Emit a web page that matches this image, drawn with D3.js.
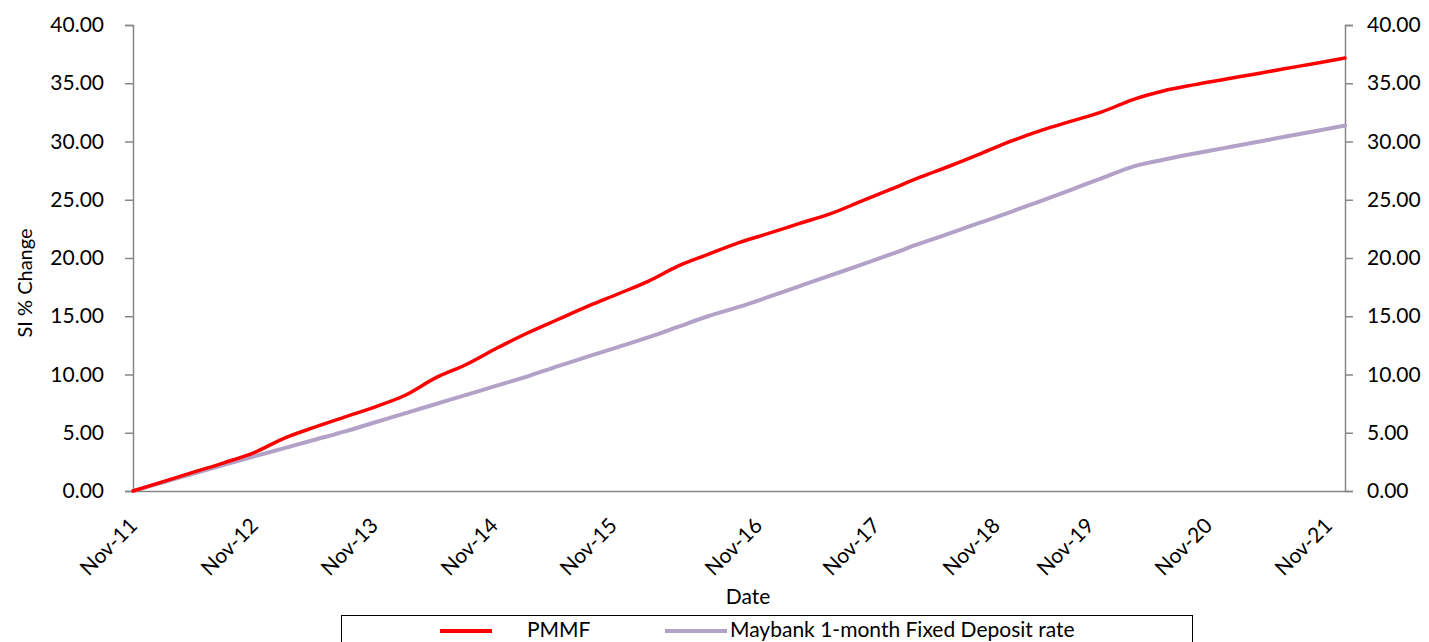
<!DOCTYPE html>
<html>
<head>
<meta charset="utf-8">
<script src="https://cdn.jsdelivr.net/npm/d3@7"></script>
<style>
  body { margin: 0; background: #fff; }
  text { font-family: Lato, "Open Sans", sans-serif; fill: #000; }
</style>
</head>
<body>
<div id="chart"></div>
<script>

// frame constants
const FRAME_WIDTH = 1429;
const FRAME_HEIGHT = 642;
const MARGINS = {left: 133, right: 84, top: 25, bottom: 151};

const VIS_WIDTH = FRAME_WIDTH - MARGINS.left - MARGINS.right;
const VIS_HEIGHT = FRAME_HEIGHT - MARGINS.top - MARGINS.bottom;

// data: cumulative % change, sampled quarterly from Nov-11 to Nov-21
const PMMF = [0, 0.80, 1.62, 2.42, 3.30, 4.54, 5.48, 6.36, 7.23, 8.24, 9.73,
  10.86, 12.25, 13.54, 14.70, 15.85, 16.91, 18.00, 19.32, 20.33, 21.32,
  22.13, 22.97, 23.78, 24.83, 25.89, 26.96, 27.94, 28.98, 30.05, 30.97,
  31.77, 32.57, 33.60, 34.34, 34.86, 35.32, 35.78, 36.24, 36.70, 37.16];

const MAYBANK = [0, 0.75, 1.50, 2.25, 2.97, 3.68, 4.40, 5.12, 5.90, 6.69, 7.47,
  8.25, 9.04, 9.82, 10.70, 11.53, 12.35, 13.18, 14.10, 15.02, 15.80,
  16.68, 17.58, 18.49, 19.38, 20.31, 21.27, 22.16, 23.07, 23.99, 24.93,
  25.90, 26.87, 27.85, 28.44, 28.95, 29.43, 29.91, 30.40, 30.88, 31.37];

// x tick labels and where they sit (in point index units)
const TICK_LABELS = ["Nov-11", "Nov-12", "Nov-13", "Nov-14", "Nov-15", "Nov-16",
  "Nov-17", "Nov-18", "Nov-19", "Nov-20", "Nov-21"];
const TICK_AT = [0, 3.99, 7.95, 11.91, 15.84, 20.63, 24.52, 28.48, 31.58, 35.48, 39.44];

const Y_TICKS = [0, 5, 10, 15, 20, 25, 30, 35, 40];

const SERIES = [
  {name: "PMMF", values: PMMF, color: "#ff0000", width: 3.5},
  {name: "Maybank 1-month Fixed Deposit rate", values: MAYBANK, color: "#b3a2c7", width: 4}
];

const AXIS_COLOR = "#868686";

const FRAME = d3.select("#chart")
  .append("svg")
    .attr("width", FRAME_WIDTH)
    .attr("height", FRAME_HEIGHT);

// scales
const X_SCALE = d3.scaleLinear()
  .domain([0, PMMF.length - 1])
  .range([0, VIS_WIDTH]);

const Y_SCALE = d3.scaleLinear()
  .domain([0, 40])
  .range([VIS_HEIGHT, 0]);

const G = FRAME.append("g")
  .attr("transform", "translate(" + MARGINS.left + "," + MARGINS.top + ")");

// left y axis
const yLeft = G.append("g")
  .call(d3.axisLeft(Y_SCALE).tickValues(Y_TICKS).tickFormat(d3.format(".2f"))
    .tickSize(8).tickPadding(21));

// right y axis
const yRight = G.append("g")
  .attr("transform", "translate(" + VIS_WIDTH + ",0)")
  .call(d3.axisRight(Y_SCALE).tickValues(Y_TICKS).tickFormat(d3.format(".2f"))
    .tickSize(8).tickPadding(14));

// bottom x axis
const xAxis = G.append("g")
  .attr("transform", "translate(0," + VIS_HEIGHT + ")")
  .call(d3.axisBottom(X_SCALE).tickValues(TICK_AT)
    .tickFormat((d, i) => TICK_LABELS[i]).tickSize(0).tickSizeOuter(0));

xAxis.selectAll("text")
  .attr("x", 0).attr("y", 0).attr("dy", 0)
  .attr("text-anchor", "end")
  .attr("transform", "translate(5,36) rotate(-45)");

[yLeft, yRight, xAxis].forEach((a) => {
  a.attr("font-size", "21px").attr("font-family", "Lato, 'Open Sans', sans-serif");
  a.selectAll("path, line").attr("stroke", AXIS_COLOR).attr("stroke-width", 1.5);
  a.selectAll("text").attr("fill", "#000");
});

// lines
const LINE = d3.line()
  .x((d, i) => X_SCALE(i))
  .y((d) => Y_SCALE(d))
  .curve(d3.curveMonotoneX);

G.selectAll(".series")
  .data(SERIES.slice().reverse())
  .enter()
  .append("path")
    .attr("class", "series")
    .attr("d", (d) => LINE(d.values))
    .attr("fill", "none")
    .attr("stroke", (d) => d.color)
    .attr("stroke-width", (d) => d.width)
    .attr("stroke-linejoin", "round")
    .attr("stroke-linecap", "round");

// axis titles
FRAME.append("text")
  .attr("x", 748).attr("y", 604)
  .attr("text-anchor", "middle")
  .attr("font-size", "21px")
  .text("Date");

FRAME.append("text")
  .attr("transform", "translate(32," + (MARGINS.top + VIS_HEIGHT / 2 + 25) + ") rotate(-90)")
  .attr("text-anchor", "middle")
  .attr("font-size", "20px")
  .text("SI % Change");

// legend
const LEGEND = FRAME.append("g");

LEGEND.append("rect")
  .attr("x", 341.5).attr("y", 615.5)
  .attr("width", 851).attr("height", 40)
  .attr("fill", "#fff").attr("stroke", "#000").attr("stroke-width", 1);

const LEGEND_ITEMS = [
  {lineX: 440, lineW: 52, textX: 527},
  {lineX: 665, lineW: 62, textX: 730}
];

LEGEND_ITEMS.forEach((item, i) => {
  LEGEND.append("line")
    .attr("x1", item.lineX).attr("x2", item.lineX + item.lineW)
    .attr("y1", 631).attr("y2", 631)
    .attr("stroke", SERIES[i].color)
    .attr("stroke-width", 4);
  LEGEND.append("text")
    .attr("x", item.textX).attr("y", 637)
    .attr("font-size", "21px")
    .text(SERIES[i].name);
});

</script>
</body>
</html>
